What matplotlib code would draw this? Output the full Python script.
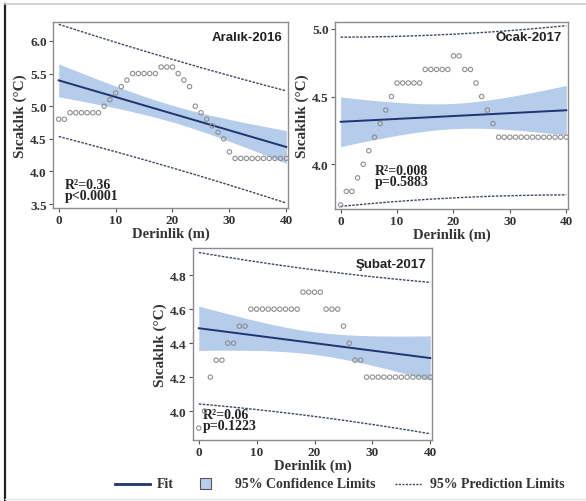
import numpy as np
import matplotlib.pyplot as plt
from matplotlib.lines import Line2D
from matplotlib.patches import Rectangle

# derinlik (m), 0..40
derinlik = np.arange(0, 41)

aralik = [4.8, 4.8, 4.9, 4.9, 4.9, 4.9, 4.9, 4.9, 5.0, 5.1, 5.2, 5.3, 5.4,
          5.5, 5.5, 5.5, 5.5, 5.5, 5.6, 5.6, 5.6, 5.5, 5.4, 5.3, 5.0, 4.9,
          4.8, 4.7, 4.6, 4.5, 4.3, 4.2, 4.2, 4.2, 4.2, 4.2, 4.2, 4.2, 4.2,
          4.2, 4.2]
ocak = [3.7, 3.8, 3.8, 3.9, 4.0, 4.1, 4.2, 4.3, 4.4, 4.5, 4.6, 4.6, 4.6,
        4.6, 4.6, 4.7, 4.7, 4.7, 4.7, 4.7, 4.8, 4.8, 4.7, 4.7, 4.6, 4.5,
        4.4, 4.3, 4.2, 4.2, 4.2, 4.2, 4.2, 4.2, 4.2, 4.2, 4.2, 4.2, 4.2,
        4.2, 4.2]
subat = [3.9, 4.0, 4.2, 4.3, 4.3, 4.4, 4.4, 4.5, 4.5, 4.6, 4.6, 4.6, 4.6,
         4.6, 4.6, 4.6, 4.6, 4.6, 4.7, 4.7, 4.7, 4.7, 4.6, 4.6, 4.6, 4.5,
         4.4, 4.3, 4.3, 4.2, 4.2, 4.2, 4.2, 4.2, 4.2, 4.2, 4.2, 4.2, 4.2,
         4.2, 4.2]

basliklar = ["Aralık-2016", "Ocak-2017", "Şubat-2017"]
istatistik = ["R²=0.36\np<0.0001", "R²=0.008\np=0.5883", "R²=0.06\np=0.1223"]
y_ticks = [[3.5, 4.0, 4.5, 5.0, 5.5, 6.0], [4.0, 4.5, 5.0], [4.0, 4.2, 4.4, 4.6, 4.8]]
y_lims = [(3.44, 6.29), (3.67, 5.05), (3.83, 4.96)]
x_ticks = [0, 10, 20, 30, 40]

T975 = 2.0227  # t(0.975, df=39)

fit_renk = "#1f3470"
band_renk = "#9dbbe5"
pred_renk = "#3a4660"

serif = "Liberation Serif"
sans = "Liberation Sans"

fig = plt.figure(figsize=(5.86, 5.02), dpi=100)
W, H = 586, 502


def eksen(l, t, r, b):
    return fig.add_axes([l / W, 1 - b / H, (r - l) / W, (b - t) / H])


axes = [eksen(53, 23, 288, 209), eksen(335, 23, 568, 210), eksen(193, 249, 432, 441)]
stat_pos = [(0.05, 0.03), (0.17, 0.11), (0.04, 0.04)]

for ax, y, baslik, ist, yt, yl, sp in zip(axes, [aralik, ocak, subat], basliklar,
                                          istatistik, y_ticks, y_lims, stat_pos):
    x = derinlik.astype(float)
    y = np.array(y)
    n = len(x)
    b, a = np.polyfit(x, y, 1)
    res = y - (a + b * x)
    s = np.sqrt(np.sum(res ** 2) / (n - 2))
    sxx = np.sum((x - x.mean()) ** 2)
    xx = np.linspace(0, 40, 200)
    yy = a + b * xx
    ci = T975 * s * np.sqrt(1 / n + (xx - x.mean()) ** 2 / sxx)
    pi = T975 * s * np.sqrt(1 + 1 / n + (xx - x.mean()) ** 2 / sxx)

    ax.fill_between(xx, yy - ci, yy + ci, color=band_renk, alpha=0.75, lw=0, zorder=1)
    ax.plot(xx, yy, color=fit_renk, lw=1.4, zorder=3)
    ax.plot(xx, yy + pi, color=pred_renk, lw=1.0, ls=(0, (1.8, 1.0)), zorder=3)
    ax.plot(xx, yy - pi, color=pred_renk, lw=1.0, ls=(0, (1.8, 1.0)), zorder=3)
    ax.scatter(x, y, s=10, facecolors="none", edgecolors="#8f8f8f", linewidths=0.8, zorder=4)

    ax.set_xlim(-1, 40.3)
    ax.set_ylim(*yl)
    ax.set_xticks(x_ticks)
    ax.set_yticks(yt)
    ax.set_yticklabels([f"{v:.1f}" for v in yt])
    for lab in ax.get_xticklabels() + ax.get_yticklabels():
        lab.set_family(serif)
        lab.set_weight("bold")
        lab.set_fontsize(9.5)
        lab.set_color("#333333")
    ax.tick_params(length=3, width=0.8, color="#555555", pad=1.5)
    for sp_ in ax.spines.values():
        sp_.set_color("#8c8c8c")
        sp_.set_linewidth(1.0)
    ax.set_xlabel("Derinlik (m)", family=serif, weight="bold", fontsize=10.5,
                  color="#333333", labelpad=0)
    ax.set_ylabel("Sıcaklık (°C)", family=serif, weight="bold", fontsize=11,
                  color="#333333", labelpad=2)
    ax.text(0.975, 0.95, baslik, transform=ax.transAxes, ha="right", va="top",
            family=sans, weight="bold", fontsize=9.5, color="#222222")
    ax.text(sp[0], sp[1], ist, transform=ax.transAxes, ha="left", va="bottom",
            family=serif, weight="bold", fontsize=10, color="#222222", linespacing=0.8)

# legend, drawn by hand
yl_ = 1 - 485 / H
fig.add_artist(Line2D([115 / W, 150 / W], [yl_, yl_], color=fit_renk, lw=2))
fig.text(157 / W, yl_, "Fit", family=serif, weight="bold", fontsize=10,
         color="#333333", va="center")
fig.add_artist(Rectangle((200 / W, 1 - 490 / H), 11 / W, 11 / H, facecolor="#b9cfe9",
                         edgecolor="#555555", lw=0.8, transform=fig.transFigure))
fig.text(235 / W, yl_, "95% Confidence Limits", family=serif, weight="bold",
         fontsize=10, color="#333333", va="center")
fig.add_artist(Line2D([395 / W, 421 / W], [yl_, yl_], color=pred_renk, lw=1.0,
                      ls=(0, (1.5, 1))))
fig.text(430 / W, yl_, "95% Prediction Limits", family=serif, weight="bold",
         fontsize=10, color="#333333", va="center")

# outer frame
fig.add_artist(Line2D([5 / W, 5 / W], [0.002, 1 - 5 / H], color="#222222", lw=1.6))
fig.add_artist(Line2D([5 / W, 1], [1 - 5 / H, 1 - 5 / H], color="#cccccc", lw=1.2))
fig.add_artist(Line2D([5 / W, 1], [2 / H, 2 / H], color="#e6e6e6", lw=1.0))

fig.savefig("out.png", dpi=100)
